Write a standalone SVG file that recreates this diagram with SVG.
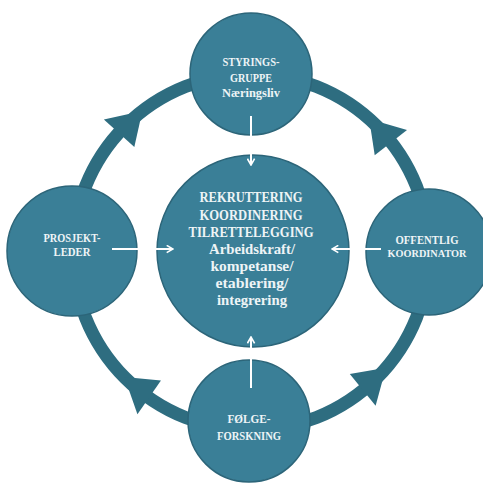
<svg xmlns="http://www.w3.org/2000/svg" width="483" height="486" viewBox="0 0 483 486">
<defs>
<style>
.ring{fill:none;stroke:#2e6d80;stroke-width:13}
.ah{fill:#2e6d80}
.node{fill:#3a7f97;stroke:#2c6579;stroke-width:1.5}
.t{font-family:"Liberation Serif","DejaVu Serif",serif;font-weight:bold;fill:#eef4f6;text-anchor:middle}
.n{font-size:12.5px}
.c{font-size:14.5px}
.l{font-size:15.5px}
.k{font-size:10.5px}
.con{stroke:#ffffff;stroke-width:2;fill:none}
</style>
<marker id="chev" viewBox="0 0 10 10" refX="9" refY="5" markerWidth="9" markerHeight="9" markerUnits="userSpaceOnUse" orient="auto">
<path d="M2,1 L9,5 L2,9" fill="none" stroke="#ffffff" stroke-width="1.8"/>
</marker>
<path id="cw" d="M251,54 L251,95 L283,77 Z"/>
<path id="ccw" d="M251,54 L251,95 L219,77 Z"/>
</defs>
<rect width="483" height="486" fill="#ffffff"/>
<g id="ring">
<circle class="ring" cx="251" cy="252" r="178"/>
<use href="#cw" class="ah" transform="rotate(-48 251 252)"/>
<use href="#ccw" class="ah" transform="rotate(52 251 252)"/>
<use href="#ccw" class="ah" transform="rotate(141 251 252)"/>
<use href="#cw" class="ah" transform="rotate(-145 251 252)"/>
</g>
<g id="center">
<circle class="node" cx="253" cy="251" r="96"/>
<text class="t c" x="251" y="202" textLength="103" lengthAdjust="spacingAndGlyphs">REKRUTTERING</text>
<text class="t c" x="251" y="219.5" textLength="103" lengthAdjust="spacingAndGlyphs">KOORDINERING</text>
<text class="t c" x="251" y="237" textLength="125" lengthAdjust="spacingAndGlyphs">TILRETTELEGGING</text>
<text class="t l" x="252" y="254" textLength="86" lengthAdjust="spacingAndGlyphs">Arbeidskraft/</text>
<text class="t l" x="252" y="271" textLength="83" lengthAdjust="spacingAndGlyphs">kompetanse/</text>
<text class="t l" x="252" y="288" textLength="73" lengthAdjust="spacingAndGlyphs">etablering/</text>
<text class="t l" x="252" y="305" textLength="70" lengthAdjust="spacingAndGlyphs">integrering</text>
</g>
<g id="styringsgruppe">
<circle class="node" cx="251" cy="74" r="61"/>
<text class="t n" x="251" y="66" textLength="57" lengthAdjust="spacingAndGlyphs">STYRINGS-</text>
<text class="t n" x="251" y="82" textLength="42" lengthAdjust="spacingAndGlyphs">GRUPPE</text>
<text class="t n" x="251" y="97" textLength="58" lengthAdjust="spacingAndGlyphs">Næringsliv</text>
</g>
<g id="prosjektleder">
<circle class="node" cx="72" cy="251" r="65"/>
<text class="t n" x="72" y="242" textLength="57" lengthAdjust="spacingAndGlyphs">PROSJEKT-</text>
<text class="t n" x="72" y="256" textLength="37" lengthAdjust="spacingAndGlyphs">LEDER</text>
</g>
<g id="offentlig">
<circle class="node" cx="429" cy="252" r="63"/>
<text class="t n" x="427" y="244" textLength="63" lengthAdjust="spacingAndGlyphs">OFFENTLIG</text>
<text class="t k" x="427" y="257" textLength="79" lengthAdjust="spacingAndGlyphs">KOORDINATOR</text>
</g>
<g id="folgeforskning">
<circle class="node" cx="249" cy="421" r="61"/>
<text class="t n" x="249" y="423" textLength="43" lengthAdjust="spacingAndGlyphs">FØLGE-</text>
<text class="t n" x="249" y="440" textLength="64" lengthAdjust="spacingAndGlyphs">FORSKNING</text>
</g>
<g id="connectors">
<line class="con" x1="251" y1="116" x2="251" y2="165" marker-end="url(#chev)"/>
<line class="con" x1="112" y1="249" x2="173" y2="249" marker-end="url(#chev)"/>
<line class="con" x1="381" y1="249" x2="332" y2="249" marker-end="url(#chev)"/>
<line class="con" x1="251" y1="388" x2="251" y2="337" marker-end="url(#chev)"/>
</g>
</svg>
